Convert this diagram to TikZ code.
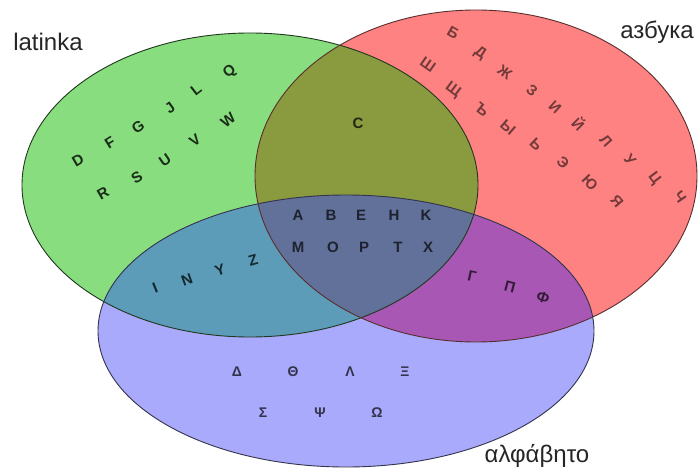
\documentclass[tikz,border=0pt]{standalone}
\usepackage{fontspec}
\setmainfont{Liberation Sans}
\usepackage{xcolor}
\definecolor{LatinGreen}{HTML}{88DD7E}
\definecolor{CyrRed}{HTML}{FF8282}
\definecolor{GreekBlue}{HTML}{AAAAFC}
\definecolor{LatCyr}{HTML}{8A9A3E}
\definecolor{LatGreek}{HTML}{5C9CB8}
\definecolor{CyrGreek}{HTML}{A858B4}
\definecolor{AllThree}{HTML}{62719A}
\newcommand{\latinset}{(250,185) ellipse [x radius=228, y radius=152]}
\newcommand{\cyrset}{(476,176) ellipse [x radius=221, y radius=166]}
\newcommand{\greekset}{(346,331) ellipse [x radius=248, y radius=136]}
\tikzset{
    setlabel/.style={font=\fontsize{24}{24}\selectfont, text=black!85, inner sep=0pt},
    letter/.style={font=\fontsize{15}{15}\bfseries\selectfont, inner sep=0pt},
    latletter/.style={letter, text=LatinGreen!20!black},
    cyrletter/.style={letter, text=CyrRed!45!black},
    grkletter/.style={letter, font=\fontsize{14}{14}\bfseries\selectfont, text=GreekBlue!30!black},
    midletter/.style={letter, text=AllThree!30!black},
    outline/.style={line width=0.9pt}
}

\begin{document}
\begin{tikzpicture}[x=1pt, y=-1pt]
    \useasboundingbox (0,0) rectangle (699,470);
    \fill[white] (0,0) rectangle (699,470);

    % the three sets
    \fill[LatinGreen] \latinset;
    \fill[CyrRed] \cyrset;
    \fill[GreekBlue] \greekset;
    \begin{scope}
        \clip \latinset;
        \fill[LatCyr] \cyrset;
        \fill[LatGreek] \greekset;
    \end{scope}
    \begin{scope}
        \clip \cyrset;
        \fill[CyrGreek] \greekset;
    \end{scope}
    \begin{scope}
        \clip \latinset;
        \clip \cyrset;
        \fill[AllThree] \greekset;
    \end{scope}
    \draw[outline, draw=LatinGreen!25!black] \latinset;
    \draw[outline, draw=CyrRed!35!black] \cyrset;
    \draw[outline, draw=GreekBlue!30!black] \greekset;

    % set names
    \node[setlabel] (latinka) at (48,42) {latinka};
    \node[setlabel] (azbuka) at (657,32) {азбука};
    \node[setlabel] (alfavito) at (537,456) {αλφάβητο};

    % latin only
    \foreach \l/\x/\y/\r [count=\i] in {D/78/160/30, F/110/143/32, G/138/127/34, J/170/108/36, L/196/90/38, Q/230/72/40,
                                        R/103/193/30, S/137/177/32, U/165/160/34, V/195/140/36, W/228/120/38}
        \node[latletter, rotate=\r] (lat\i) at (\x,\y) {\l};

    % latin and cyrillic
    \node[letter, text=LatCyr!25!black] (latcyr) at (358,123) {C};

    % cyrillic only
    \foreach \l/\x/\y/\r [count=\i] in {Б/453/33/-30, Д/480/53/-33, Ж/505/72/-36, З/532/90/-39, И/555/107/-42,
                                        Й/579/124/-45, Л/606/141/-48, У/630/160/-50, Ц/654/179/-53, Ч/680/197/-56,
                                        Ш/428/65/-35, Щ/453/90/-37, Ъ/482/110/-39, Ы/508/127/-41, Ь/536/144/-43,
                                        Э/563/163/-45, Ю/590/183/-47, Я/617/201/-50}
        \node[cyrletter, rotate=\r] (cyr\i) at (\x,\y) {\l};

    % all three
    \foreach \l/\x/\y [count=\i] in {A/298/215, B/331/215, E/361/215, H/394/215, K/426/215,
                                     M/298/247, O/333/247, P/364/247, T/398/247, X/428/247}
        \node[midletter] (mid\i) at (\x,\y) {\l};

    % latin and greek
    \foreach \l/\x/\y/\r [count=\i] in {I/155/288/22, N/187/280/20, Y/220/270/18, Z/253/260/16}
        \node[letter, text=LatGreek!25!black, rotate=\r] (latgrk\i) at (\x,\y) {\l};

    % cyrillic and greek
    \foreach \l/\x/\y/\r [count=\i] in {Г/472/276/-12, П/510/287/-15, Ф/543/298/-18}
        \node[letter, text=CyrGreek!30!black, rotate=\r] (cyrgrk\i) at (\x,\y) {\l};

    % greek only
    \foreach \l/\x/\y [count=\i] in {Δ/237/372, Θ/293/372, Λ/350/372, Ξ/405/372,
                                     Σ/263/413, Ψ/320/413, Ω/377/413}
        \node[grkletter] (grk\i) at (\x,\y) {\l};
\end{tikzpicture}
\end{document}
